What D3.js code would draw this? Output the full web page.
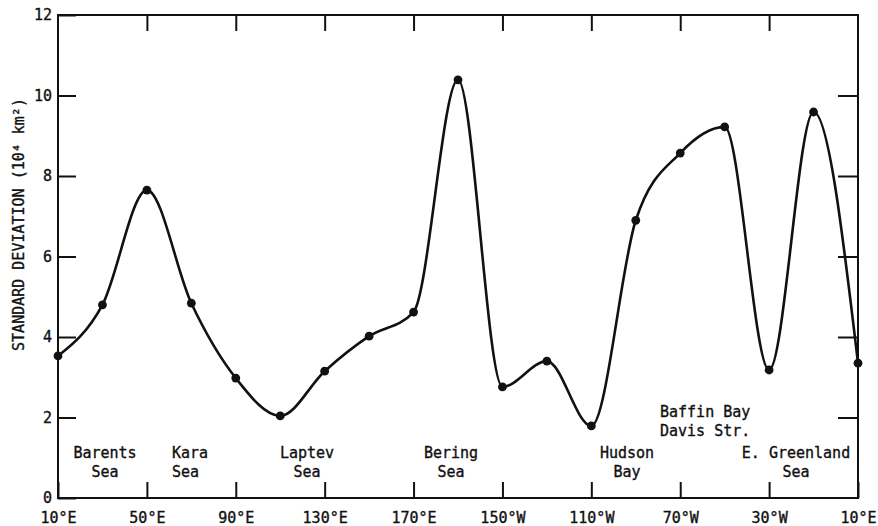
<!DOCTYPE html>
<html>
<head>
<meta charset="utf-8">
<script src="https://cdn.jsdelivr.net/npm/d3@7"></script>
<style>
  html, body { margin: 0; padding: 0; background: #fff; }
  svg { display: block; }
  text { font-family: "DejaVu Sans Mono", "Liberation Mono", monospace; fill: #111; stroke: #111; stroke-width: 0.35px; }
</style>
</head>
<body>
<svg id="chart" width="878" height="526"></svg>
<script>
// Longitude (degrees east, 10°E .. 370 = 10°E again) at each plotted station
const longitudes = [10, 30, 50, 70, 90, 110, 130, 150, 170, 190, 210, 230, 250, 270, 290, 310, 330, 350, 370];
// Standard deviation of sea-ice extent (10^4 km^2)
const stdDev = [3.53, 4.80, 7.65, 4.84, 2.98, 2.04, 3.15, 4.02, 4.62, 10.39, 2.76, 3.40, 1.79, 6.90, 8.57, 9.22, 3.18, 9.59, 3.35];

// Longitude axis ticks and their labels
const xTickValues = [10, 50, 90, 130, 170, 210, 250, 290, 330, 370];
const xTickLabels = ["10°E", "50°E", "90°E", "130°E", "170°E", "150°W", "110°W", "70°W", "30°W", "10°E"];
const yTickValues = [0, 2, 4, 6, 8, 10, 12];

// Sea / region names written inside the plot
const regionNames = [
  ["Barents", "Sea"],
  ["Kara", "Sea"],
  ["Laptev", "Sea"],
  ["Bering", "Sea"],
  ["Hudson", "Bay"],
  ["Baffin Bay", "Davis Str."],
  ["E. Greenland", "Sea"]
];

const svg = d3.select("#chart");
const plotL = 58, plotR = 858, plotT = 15, plotB = 498;

const x = d3.scaleLinear().domain([10, 370]).range([plotL, plotR]);
const y = d3.scaleLinear().domain([0, 12]).range([plotB, plotT]);

const axisStyle = g => {
  g.select(".domain").remove();
  g.selectAll(".tick line").attr("stroke", "#111").attr("stroke-width", 2);
  g.selectAll(".tick text").attr("font-size", 15).attr("fill", "#111")
    .attr("font-family", "'DejaVu Sans Mono', monospace");
};

// Bottom axis: ticks point into the plot
svg.append("g")
  .attr("transform", `translate(0,${plotB})`)
  .call(d3.axisBottom(x).tickValues(xTickValues)
    .tickFormat((d, i) => xTickLabels[i])
    .tickSizeInner(-16).tickSizeOuter(0).tickPadding(14))
  .call(axisStyle);

// Top axis: inward ticks only
svg.append("g")
  .attr("transform", `translate(0,${plotT})`)
  .call(d3.axisTop(x).tickValues(xTickValues.slice(1, -1))
    .tickFormat("").tickSizeInner(-16).tickSizeOuter(0))
  .call(axisStyle);

// Left axis with labels
svg.append("g")
  .attr("transform", `translate(${plotL},0)`)
  .call(d3.axisLeft(y).tickValues(yTickValues)
    .tickSizeInner(-18).tickSizeOuter(0).tickPadding(6))
  .call(axisStyle);

// Right axis: inward ticks only
svg.append("g")
  .attr("transform", `translate(${plotR},0)`)
  .call(d3.axisRight(y).tickValues(yTickValues.slice(1, -1))
    .tickFormat("").tickSizeInner(-20).tickSizeOuter(0))
  .call(axisStyle);

// Plot frame
svg.append("rect")
  .attr("x", plotL).attr("y", plotT)
  .attr("width", plotR - plotL).attr("height", plotB - plotT)
  .attr("fill", "none").attr("stroke", "#111").attr("stroke-width", 2);

// Y axis title
svg.append("text")
  .attr("transform", `translate(24,${(y(12) + y(0)) / 2 - 32}) rotate(-90)`)
  .attr("text-anchor", "middle")
  .attr("font-size", 15)
  .text("STANDARD DEVIATION (10⁴ km²)");

// Smooth curve through the stations
const pts = longitudes.map((lon, i) => [lon, stdDev[i]]);
svg.append("path")
  .datum(pts)
  .attr("fill", "none")
  .attr("stroke", "#111")
  .attr("stroke-width", 2.6)
  .attr("stroke-linejoin", "round")
  .attr("d", d3.line().x(d => x(d[0])).y(d => y(d[1])).curve(d3.curveMonotoneX));

svg.append("g").selectAll("circle")
  .data(pts)
  .join("circle")
  .attr("cx", d => x(d[0]))
  .attr("cy", d => y(d[1]))
  .attr("r", 4.4)
  .attr("fill", "#111");

// Region labels: anchor x, first baseline, alignment
const regionPlacement = [
  { cx: 105, by: 458, anchor: "middle" },
  { cx: 172, by: 458, anchor: "start" },
  { cx: 307, by: 458, anchor: "middle" },
  { cx: 451, by: 458, anchor: "middle" },
  { cx: 627, by: 458, anchor: "middle" },
  { cx: 660, by: 417, anchor: "start" },
  { cx: 796, by: 458, anchor: "middle" }
];
const labels = svg.append("g");
regionNames.forEach((lines, i) => {
  const p = regionPlacement[i];
  const t = labels.append("text")
    .attr("text-anchor", p.anchor)
    .attr("font-size", 15);
  lines.forEach((s, j) => {
    t.append("tspan").attr("x", p.cx).attr("y", p.by + j * 19).text(s);
  });
});
</script>
</body>
</html>
